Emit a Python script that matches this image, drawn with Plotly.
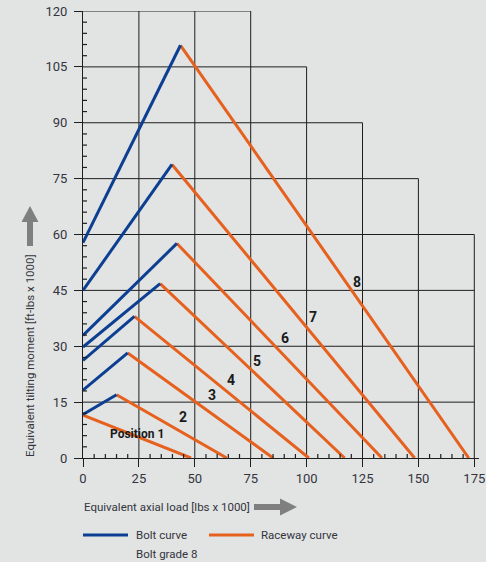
import plotly.graph_objects as go

# ---- data ----
positions = ["Position 1", "2", "3", "4", "5", "6", "7", "8"]
bolt_start_y = [11.5, 11.7, 18.2, 26.2, 29.8, 32.9, 45.0, 57.8]   # moment at zero axial load
peak_x = [0, 15.0, 20.0, 23.0, 34.5, 42.0, 39.8, 43.6]            # bolt/raceway intersection
peak_y = [11.5, 17.0, 28.2, 38.0, 46.8, 57.6, 78.8, 110.8]
raceway_end_x = [48.3, 64.3, 85.0, 101.0, 117.0, 133.7, 148.3, 172.5]
label_x = [24.2, 44.8, 57.7, 66.2, 77.9, 90.2, 103.0, 122.7]
label_y = [6.5, 11.0, 16.8, 20.9, 26.0, 32.1, 37.9, 47.2]

x_ticks = [0, 25, 50, 75, 100, 125, 150, 175]
y_ticks = [0, 15, 30, 45, 60, 75, 90, 105, 120]
# staircase grid extents
grid_top_for_x = {25: 120, 50: 120, 75: 120, 100: 105, 125: 90, 150: 75, 175: 60}
grid_right_for_y = {15: 175, 30: 175, 45: 175, 60: 175, 75: 150, 90: 125, 105: 100, 120: 75}

FONT = "Roboto, Liberation Sans, sans-serif"
BLUE = "#0c3f92"
ORANGE = "#e6601e"
GRID = "#1e1e1e"
BG = "#e2e4e4"
TXT = "#33343c"

W, H = 486, 562
L, R, T, B = 83, 479, 11, 458


def pxx(px):
    return (px - L) / (R - L)


def pxy(py):
    return (B - py) / (B - T)


fig = go.Figure()

# raceway curves
rx, ry = [], []
for px_, py_, ex in zip(peak_x, peak_y, raceway_end_x):
    rx += [px_, ex, None]
    ry += [py_, 0, None]
fig.add_trace(go.Scatter(x=rx, y=ry, mode="lines", line=dict(color=ORANGE, width=3),
                         name="Raceway curve", showlegend=False, hoverinfo="skip"))

# bolt curves
bx, by = [], []
for sy, px_, py_ in zip(bolt_start_y, peak_x, peak_y):
    if px_ > 0:
        bx += [0, px_, None]
        by += [sy, py_, None]
fig.add_trace(go.Scatter(x=bx, y=by, mode="lines", line=dict(color=BLUE, width=3),
                         name="Bolt curve", showlegend=False, hoverinfo="skip"))

# position labels
for t, lx, ly in zip(positions, label_x, label_y):
    fig.add_annotation(x=lx, y=ly, text="<b>%s</b>" % t, showarrow=False,
                       font=dict(family=FONT, size=12 if len(t) > 1 else 14, color="#1a1a1a"),
                       xanchor="center", yanchor="middle")

shapes = []
# staircase grid
for xv, top in grid_top_for_x.items():
    shapes.append(dict(type="line", xref="x", yref="y", x0=xv, x1=xv, y0=0, y1=top,
                       line=dict(color=GRID, width=1), layer="below"))
for yv, right in grid_right_for_y.items():
    shapes.append(dict(type="line", xref="x", yref="y", x0=0, x1=right, y0=yv, y1=yv,
                       line=dict(color=GRID, width=1), layer="below"))
# minor ticks crossing the axes
for v in range(3, 120, 3):
    if v % 15:
        shapes.append(dict(type="line", xref="x", yref="y", xsizemode="pixel", xanchor=0,
                           x0=-4, x1=4, y0=v, y1=v, line=dict(color=GRID, width=1.2)))
for v in range(5, 176, 5):
    if v % 25:
        shapes.append(dict(type="line", xref="x", yref="y", ysizemode="pixel", yanchor=0,
                           y0=-4, y1=4, x0=v, x1=v, line=dict(color=GRID, width=1.2)))

# gray arrows next to axis titles
def up_arrow(cx, tip, base, bottom, hw=8.5, sw=3):
    pts = [(cx, tip), (cx + hw, base), (cx + sw, base), (cx + sw, bottom),
           (cx - sw, bottom), (cx - sw, base), (cx - hw, base)]
    return "M " + " L ".join("%f,%f" % (pxx(a), pxy(b)) for a, b in pts) + " Z"


def right_arrow(cy, tip, base, left, hw=8.5, sw=3):
    pts = [(tip, cy), (base, cy - hw), (base, cy - sw), (left, cy - sw),
           (left, cy + sw), (base, cy + sw), (base, cy + hw)]
    return "M " + " L ".join("%f,%f" % (pxx(a), pxy(b)) for a, b in pts) + " Z"


shapes.append(dict(type="path", xref="paper", yref="paper", path=up_arrow(30, 206, 222, 246),
                   fillcolor="#7f7f7f", line=dict(width=0)))
shapes.append(dict(type="path", xref="paper", yref="paper", path=right_arrow(507, 297, 280, 254),
                   fillcolor="#7f7f7f", line=dict(width=0)))

# legend (drawn)
shapes.append(dict(type="line", xref="paper", yref="paper", x0=pxx(83), x1=pxx(128),
                   y0=pxy(535), y1=pxy(535), line=dict(color=BLUE, width=3)))
shapes.append(dict(type="line", xref="paper", yref="paper", x0=pxx(209), x1=pxx(254),
                   y0=pxy(535), y1=pxy(535), line=dict(color=ORANGE, width=3)))

fig.update_layout(shapes=shapes)

ann_font = dict(family=FONT, size=11.5, color=TXT)
fig.add_annotation(xref="paper", yref="paper", x=pxx(82), y=pxy(507), text="Equivalent axial load [lbs x 1000]",
                   showarrow=False, xanchor="left", yanchor="middle", font=ann_font)
fig.add_annotation(xref="paper", yref="paper", x=pxx(30), y=pxy(356),
                   text="Equivalent tilting moment [ft-lbs x 1000]", textangle=-90,
                   showarrow=False, xanchor="center", yanchor="middle", font=ann_font)
fig.add_annotation(xref="paper", yref="paper", x=pxx(134), y=pxy(535), text="Bolt curve",
                   showarrow=False, xanchor="left", yanchor="middle", font=ann_font)
fig.add_annotation(xref="paper", yref="paper", x=pxx(134), y=pxy(554), text="Bolt grade 8",
                   showarrow=False, xanchor="left", yanchor="middle", font=ann_font)
fig.add_annotation(xref="paper", yref="paper", x=pxx(259), y=pxy(535), text="Raceway curve",
                   showarrow=False, xanchor="left", yanchor="middle", font=ann_font)

axis_common = dict(showgrid=False, zeroline=False, showline=True, linecolor=GRID, linewidth=1,
                   ticks="outside", ticklen=8, tickcolor=GRID, tickwidth=1, automargin=False,
                   tickfont=dict(family=FONT, size=13, color=TXT), fixedrange=True)
fig.update_xaxes(range=[0, 177.1], tickvals=x_ticks, ticktext=[str(v) for v in x_ticks], **axis_common)
fig.update_yaxes(range=[0, 120], tickvals=y_ticks, ticktext=[str(v) for v in y_ticks],
                 ticklabelstandoff=4, **axis_common)

fig.update_layout(width=W, height=H, margin=dict(l=L, r=W - R, t=T, b=H - B, pad=0),
                  paper_bgcolor=BG, plot_bgcolor=BG, showlegend=False)

fig.write_html("out.html", config={"displayModeBar": False},
               post_script="document.body.style.margin='0';document.body.style.overflow='hidden';")
